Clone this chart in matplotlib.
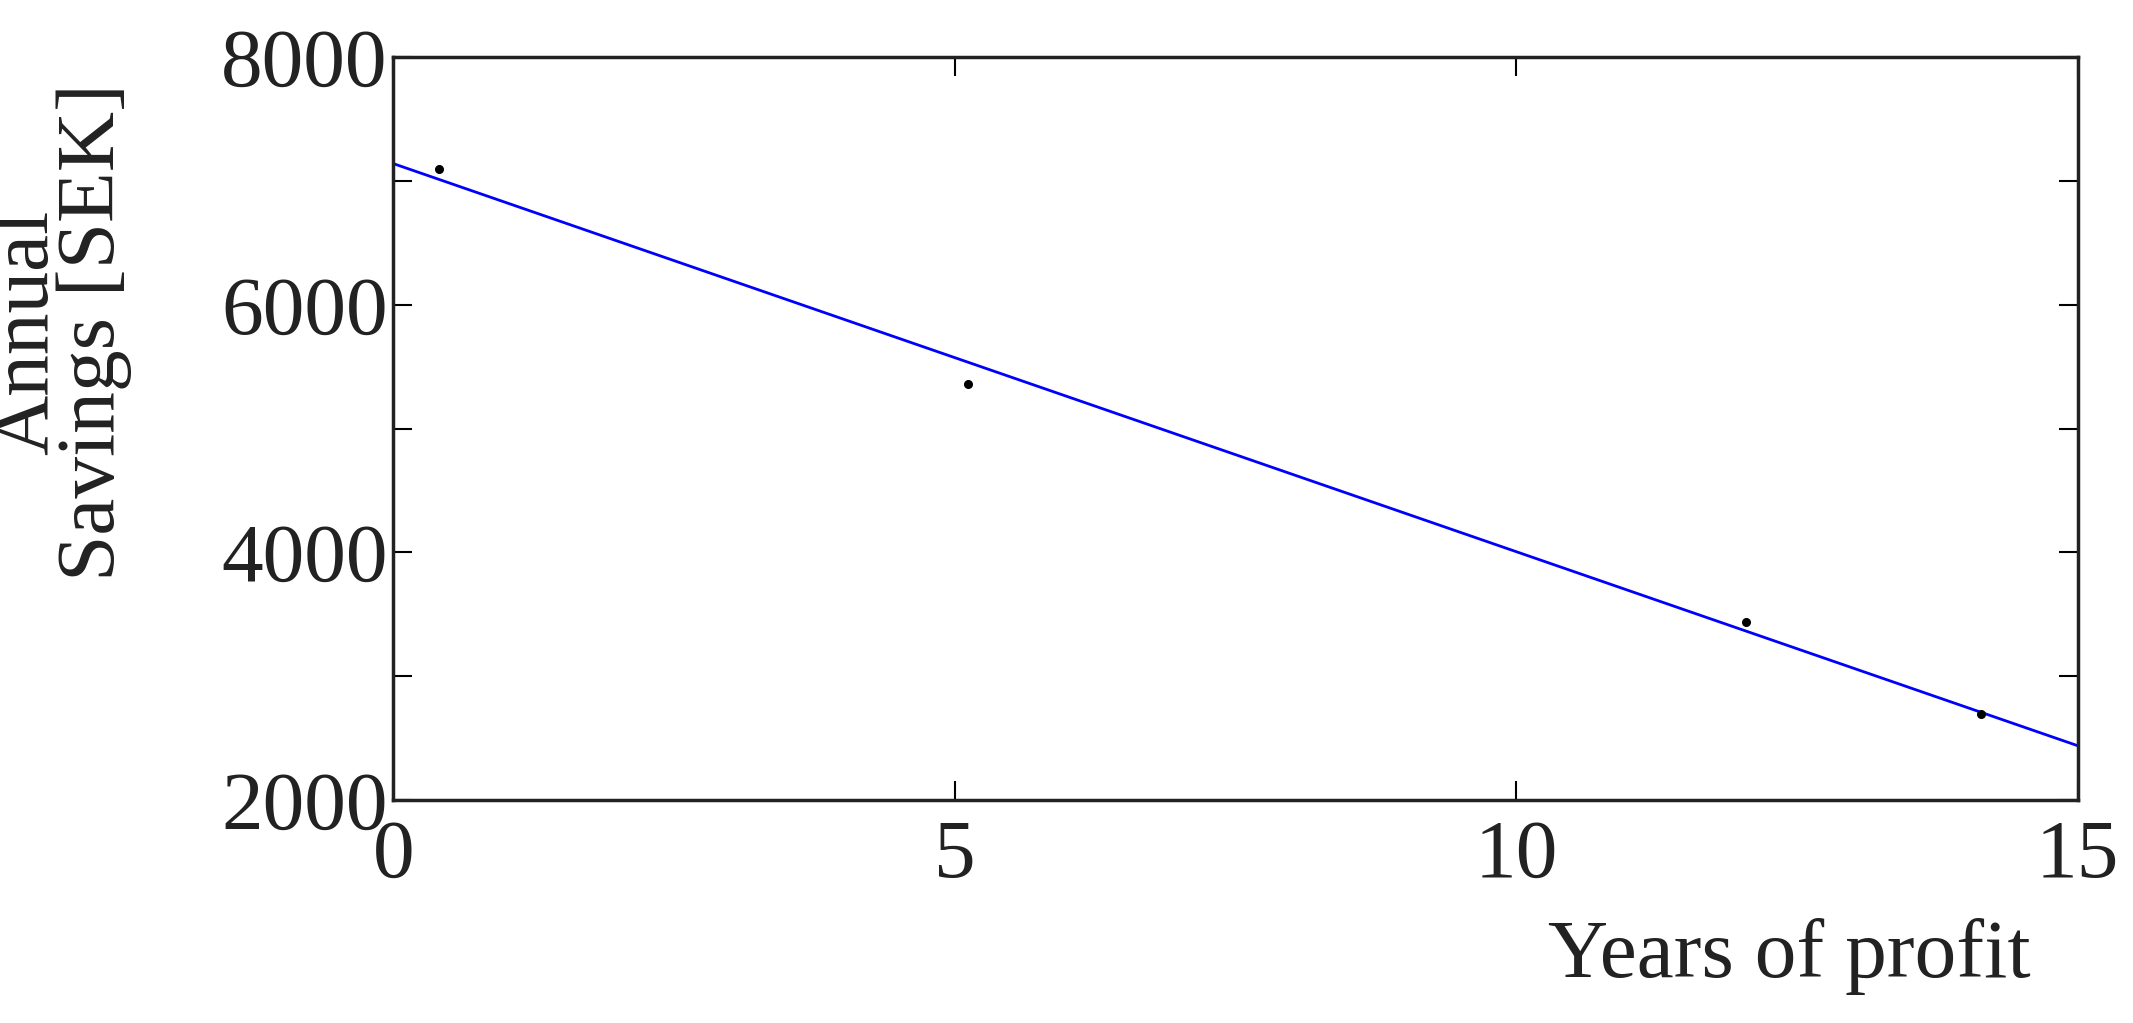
import numpy as np
import matplotlib.pyplot as plt

plt.rcParams['font.family'] = ['Liberation Serif', 'DejaVu Serif']

# data points
years = [0.41, 5.12, 12.05, 14.14]
savings = [7097, 5357, 3441, 2692]
# fitted line endpoints
fit_x = [0, 15]
fit_y = [7141, 2439]

fig = plt.figure(figsize=(21.33, 10.23), dpi=100)
ax = fig.add_axes([0.1844, 0.218, 0.7896, 0.726])
ax.plot(fit_x, fit_y, color='blue', lw=2)
ax.plot(years, savings, 'k.', ms=11)
ax.set_xlim(0, 15)
ax.set_ylim(2000, 8000)
ax.set_xticks([0, 5, 10, 15])
ax.set_yticks([2000, 4000, 6000, 8000])
ax.set_yticks(np.arange(2000, 8001, 1000), minor=True)
ax.tick_params(which='both', direction='in', top=True, right=True, labelsize=60,
               width=1.5, labelcolor='#222222')
ax.tick_params(which='major', length=14)
ax.tick_params(which='minor', length=14)
ax.tick_params(axis='y', pad=4)
ax.tick_params(axis='x', pad=14)
for s in ax.spines.values():
    s.set_linewidth(2.5)
    s.set_color('#222222')
ax.set_ylabel('Annual\nSavings [SEK]', fontsize=60, color='#222222', linespacing=0.85)
ax.yaxis.set_label_coords(-0.155, 0.63)
fig.text(0.952, 0.045, 'Years of profit', fontsize=60, ha='right', color='#222222')
fig.savefig('out.png', dpi=100)
